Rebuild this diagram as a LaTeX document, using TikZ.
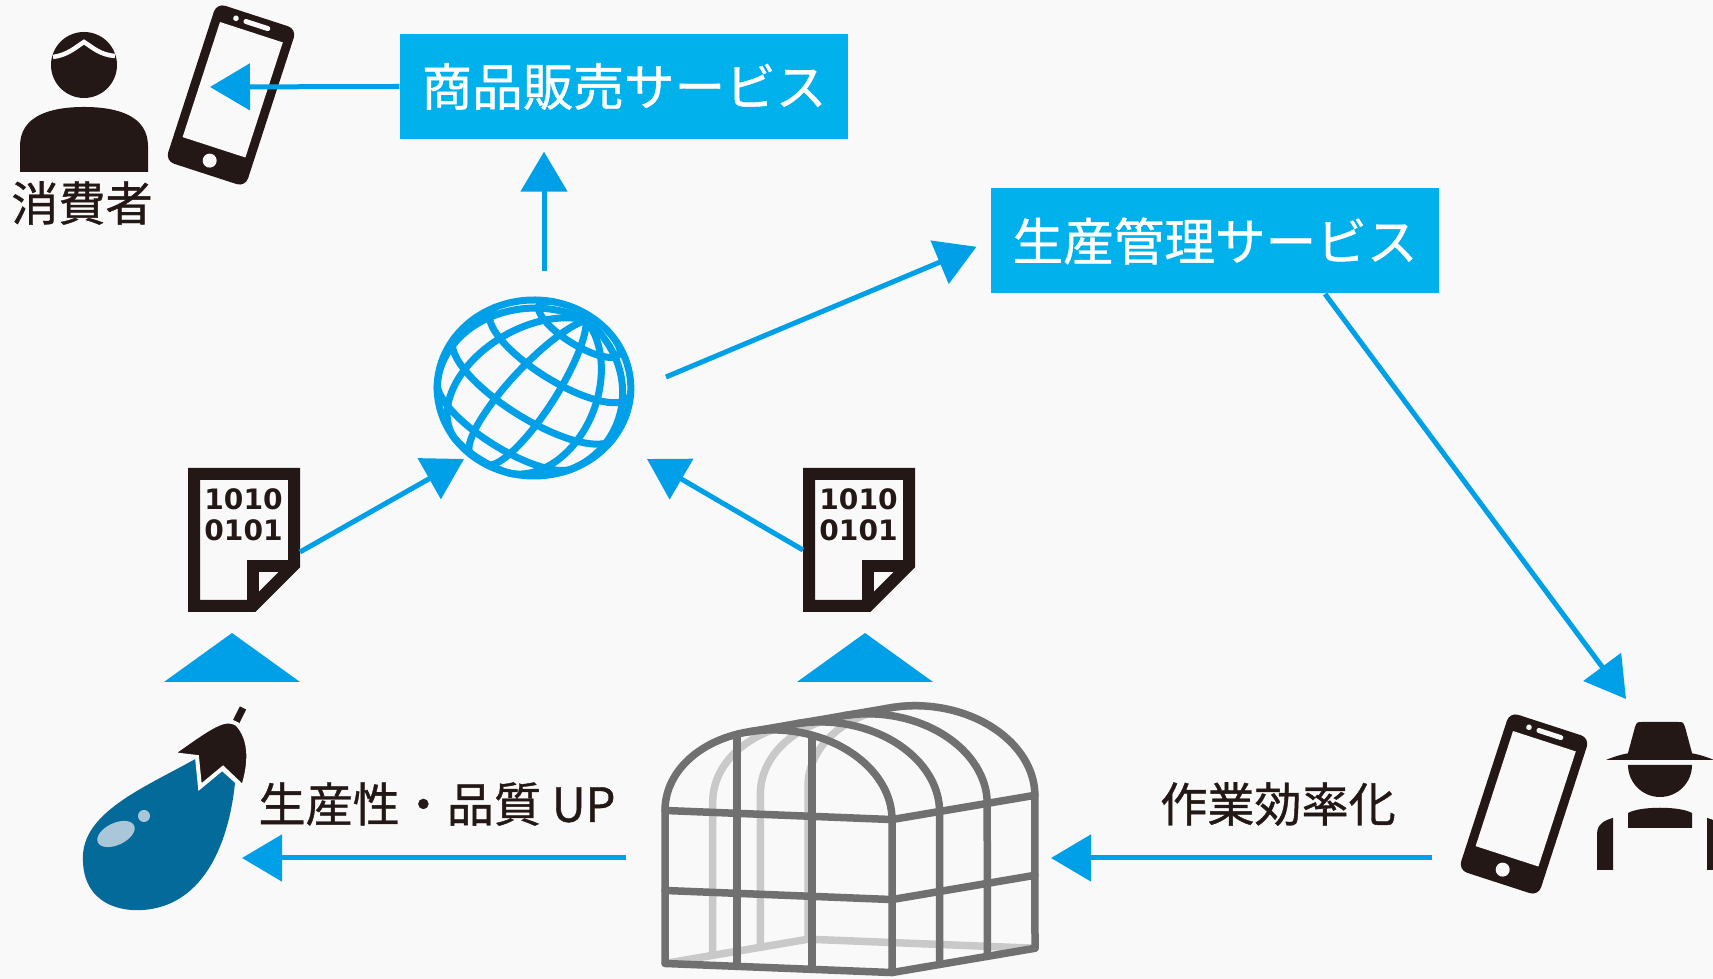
\documentclass[tikz,border=0pt]{standalone}
\usepackage{fontspec}
\newfontfamily\jpfont{Noto Sans CJK JP}[FakeBold=0.8]
\newfontfamily\bitfont{DejaVu Sans}
\usetikzlibrary{arrows.meta,positioning}

\definecolor{svcblue}{HTML}{00B1EB}
\definecolor{flowblue}{HTML}{00A0E9}
\definecolor{ink}{HTML}{231815}
\definecolor{paper}{HTML}{F9F9F9}
\definecolor{nasu}{HTML}{046A9A}
\definecolor{shine}{HTML}{A9C7D9}
\definecolor{frame}{HTML}{707070}
\definecolor{backframe}{HTML}{C9C9C9}

% smartphone icon, centred on its own origin
\tikzset{
  handset/.pic={
    \fill[ink, rounded corners=0.9mm] (-42,-83) rectangle (42,83);
    \fill[paper] (-33,-66) rectangle (33,55);
    \fill[paper, rounded corners=0.25mm] (-11,-77) rectangle (17,-72);
    \fill[paper] (-19,-74.5) circle[radius=2.8];
    \fill[paper] (0,69) circle[radius=7];
  }
}

\begin{document}
\begin{tikzpicture}[x=0.1mm, y=-0.1mm,
    >={Triangle[length=4mm,width=4.6mm]},
    flow/.style={->, draw=flowblue, line width=0.5mm},
    service/.style={fill=svcblue, text=white, minimum width=44.8mm, minimum height=10.5mm,
      inner sep=0pt, font=\jpfont\fontsize{14.4pt}{16pt}\selectfont},
    caption/.style={text=ink, inner sep=0pt, font=\jpfont\fontsize{13.4pt}{15pt}\selectfont},
    bits/.style={text=ink, inner sep=0pt, align=center,
      font=\bitfont\bfseries\fontsize{8pt}{8.8pt}\selectfont},
    doc/.style={draw=ink, line width=1.2mm, line join=miter},
    globe/.style={draw=flowblue, line width=0.7mm},
    gh/.style={draw=frame, line width=0.75mm, line cap=round, line join=round},
    ghback/.style={draw=backframe, line width=0.75mm, line cap=round}
  ]
\useasboundingbox (0,0) rectangle (1713,979);
\fill[paper] (0,0) rectangle (1713,979);
\clip (0,0) rectangle (1713,979);

% services
\node[service] (sales) at (624,86.5) {商品販売サービス};
\node[service] (prod)  at (1215,241) {生産管理サービス};

% consumer
\fill[ink] (84,65) circle[radius=33];
\draw[paper, line width=0.45mm] (53,57) .. controls (68,55) and (76,47) .. (84,42)
  .. controls (92,47) and (100,55) .. (115,56);
\fill[ink] (20,172) -- (20,146) .. controls (20,116) and (50,107) .. (84,107)
  .. controls (118,107) and (148,116) .. (148,146) -- (148,172) -- cycle;
\node[caption] (consumer) at (82,203) {消費者};
\pic[rotate=-18] at (231,95) {handset};

% network
\begin{scope}[shift={(534,388)}, x=0.1mm, y=0.1mm, xscale=1.1, rotate=-35]
  \draw[globe] (0,0) circle[radius=88];
  \foreach \p in {-75,-45,-15,15,45,75} {
    \pgfmathsetmacro\lo{-atan(cos(\p)*cot(20))}
    \draw[globe] plot[domain=\lo:90, samples=40, smooth]
      ({88*cos(\x)*sin(\p)}, {88*(sin(\x)*cos(20)-cos(\x)*cos(\p)*sin(20))});
  }
  \foreach \t in {-60,-30,0,30,60} {
    \pgfmathsetmacro\ph{acos(-tan(\t)*tan(20))}
    \draw[globe] plot[domain=-\ph:\ph, samples=40, smooth]
      ({88*cos(\t)*sin(\x)}, {88*(sin(\t)*cos(20)-cos(\t)*cos(\x)*sin(20))});
  }
\end{scope}

% data sheets
\foreach \dx/\n in {0/A, 615/B} {
  \begin{scope}[shift={(\dx,0)}]
    \draw[doc] (194,474) -- (294,474) -- (294,565) -- (253,606) -- (194,606) -- cycle;
    \draw[doc] (253,606) -- (253,566) -- (294,566);
    \node[bits] (bits\n) at (243.5,515) {1010\\0101};
  \end{scope}
}
\fill[flowblue] (164,682) -- (232,633) -- (300,682) -- cycle;
\fill[flowblue] (797,682) -- (865,633) -- (933,682) -- cycle;

% eggplant
\fill[nasu] (197,758) .. controls (150,785) and (85,810) .. (83,855)
  .. controls (81,900) and (115,912) .. (143,910)
  .. controls (200,906) and (228,850) .. (235,783) -- (215,765) -- cycle;
\fill[shine, rotate around={25:(116,834)}] (116,834) ellipse[x radius=20, y radius=11];
\fill[shine] (144,816) circle[radius=6];
\draw[ink, line width=0.7mm] (233,728) -- (243,708);
\filldraw[fill=ink, draw=paper, line width=0.4mm] (172,754) -- (197,757) -- (200,787) -- (223,768)
  -- (243,787) .. controls (250,765) and (252,740) .. (237,724)
  .. controls (225,716) and (210,727) .. (172,754) -- cycle;

% greenhouse
\begin{scope}[shift={(778,0)}, yslant=-0.04, shift={(-778,0)}, z={(14.3mm,3mm)}]
  \foreach \d in {1/3,2/3,1}
    \draw[ghback] (665,968,\d) -- (665,815,\d)
      arc[start angle=180, end angle=270, x radius=113.5, y radius=85];
  \draw[ghback] (665,968,0) -- (665,968,1) -- (892,968,1);
  \draw[gh] (665,968,0) -- (665,815,0)
    arc[start angle=180, end angle=360, x radius=113.5, y radius=85] -- (892,968,0) -- cycle;
  \draw[gh] (737,968,0) -- (737,736,0)  (812,968,0) -- (812,734,0);
  \draw[gh] (665,815,0) -- (892,815,0)  (665,895,0) -- (892,895,0);
  \draw[gh] (892,815,0) -- (892,815,1)  (892,895,0) -- (892,895,1)  (892,968,0) -- (892,968,1);
  \draw[gh] (749,733,0) -- (749,733,1);
  \foreach \d in {1/3,2/3,1}
    \draw[gh] (749,733,\d) arc[start angle=255, end angle=360, x radius=113.5, y radius=85]
      -- (892,968,\d);
\end{scope}

% farmer
\pic[rotate=-18] at (1524,804) {handset};
\fill[ink] (1628,753) -- (1635,727) .. controls (1637,722) .. (1642,722) -- (1678,722)
  .. controls (1683,722) .. (1685,727) -- (1692,753) -- cycle;
\fill[ink] (1606,760) .. controls (1625,752) and (1640,751) .. (1660,751)
  .. controls (1680,751) and (1695,752) .. (1714,760) -- cycle;
\fill[ink] (1628,765) arc[start angle=180, end angle=0, radius=32] -- cycle;
\fill[ink] (1628,828) -- (1628,813) .. controls (1640,806) and (1680,806) .. (1692,813)
  -- (1692,828) -- cycle;
\fill[ink] (1597,870) -- (1597,834) .. controls (1597,824) and (1605,820) .. (1613,818)
  -- (1613,870) -- cycle;
\fill[ink] (1723,870) -- (1723,834) .. controls (1723,824) and (1715,820) .. (1707,818)
  -- (1707,870) -- cycle;

% captions
\node[caption] (quality) at (437,804) {生産性・品質 UP};
\node[caption] (efficiency) at (1278,804) {作業効率化};

% arrow ends
\coordinate (consumer-phone) at (210,87);
\coordinate (net-up) at (544,271);
\coordinate (net-out) at (666,377);
\coordinate (prod-out) at (1325,294);
\coordinate (farmer-in) at (1626,699);
\coordinate (bitsA-out) at (300,552);
\coordinate (net-inA) at (464,459);
\coordinate (bitsB-out) at (803,550);
\coordinate (net-inB) at (647,459);
\coordinate (house-left) at (626,858);
\coordinate (nasu-in) at (242,858);
\coordinate (farmer-phone) at (1432,858);
\coordinate (house-right) at (1051,858);

\draw[flow] (sales.west) -- (consumer-phone);
\draw[flow, shorten >=1.2mm] (net-up) -- (net-up |- sales.south);
\draw[flow, shorten >=1.5mm] (net-out) -- (prod.west);
\draw[flow] (prod-out) -- (farmer-in);
\draw[flow] (bitsA-out) -- (net-inA);
\draw[flow] (bitsB-out) -- (net-inB);
\draw[flow] (house-left) -- (nasu-in);
\draw[flow] (farmer-phone) -- (house-right);
\end{tikzpicture}
\end{document}
